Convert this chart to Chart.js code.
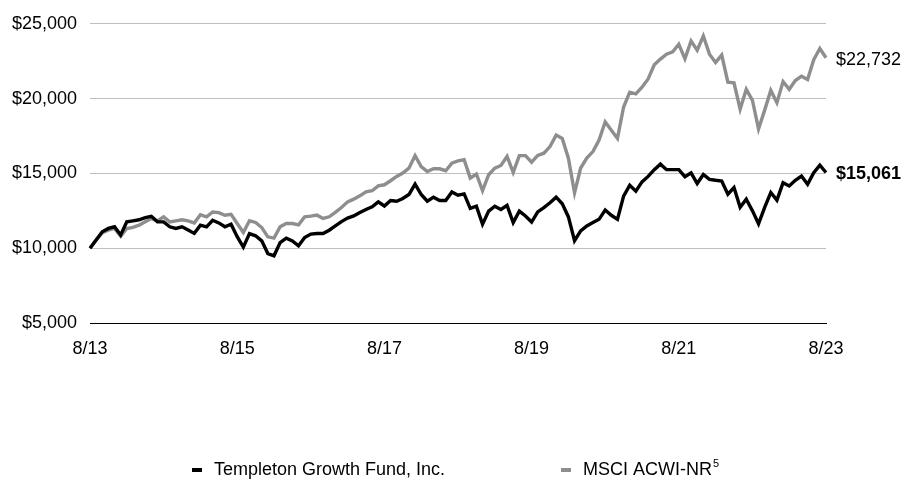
<!DOCTYPE html>
<html>
<head>
<meta charset="utf-8">
<script src="https://cdn.jsdelivr.net/npm/chart.js@4/dist/chart.umd.min.js"></script>
<style>
html,body{margin:0;padding:0;background:#fff;}
#wrap{width:903px;height:480px;position:relative;}
</style>
</head>
<body>
<div id="wrap"><canvas id="c" width="903" height="480"></canvas></div>
<script>
// ---- data ----
const FIRST_MONTH = 8;          // August
const FIRST_YEAR = 13;          // 2013
const MONTH_COUNT = 121;        // 8/13 .. 8/23 monthly
const TICK_LABELS = ['8/13', '8/15', '8/17', '8/19', '8/21', '8/23'];
const Y_TICKS = [5000, 10000, 15000, 20000, 25000];
const SERIES_NAMES = ['Templeton Growth Fund, Inc.', 'MSCI ACWI-NR⁵'];

const FUND = [
  10000, 10550, 11100, 11320, 11430, 10880, 11760, 11830, 11900, 12050,
  12130, 11760, 11760, 11430, 11320, 11430, 11210, 10990, 11540, 11430,
  11870, 11690, 11430, 11600, 10770, 10070, 10980, 10830, 10490, 9640,
  9490, 10380, 10670, 10490, 10160, 10710, 10940, 10980, 10980, 11200,
  11490, 11780, 12010, 12160, 12390, 12590, 12770, 13100, 12820, 13190,
  13140, 13320, 13590, 14290, 13590, 13140, 13410, 13190, 13190, 13760,
  13540, 13630, 12660, 12810, 11600, 12480, 12810, 12590, 12860, 11710,
  12480, 12150, 11750, 12430, 12710, 13040, 13410, 12970, 12090, 10500,
  11160, 11490, 11710, 11930, 12550, 12200, 11930, 13480, 14210, 13810,
  14430, 14800, 15250, 15620, 15250, 15250, 15255, 14780, 15040, 14320,
  14930, 14600, 14540, 14490, 13610, 14050, 12730, 13280, 12510, 11630,
  12730, 13720, 13210, 14380, 14160, 14540, 14820, 14270, 15040, 15550,
  15061
];

const INDEX = [
  10000, 10550, 11030, 11210, 11320, 10800, 11320, 11390, 11540, 11760,
  11980, 11830, 12090, 11760, 11830, 11900, 11830, 11690, 12240, 12090,
  12420, 12380, 12200, 12270, 11650, 11050, 11830, 11720, 11380, 10760,
  10670, 11430, 11650, 11650, 11560, 12100, 12140, 12210, 11990, 12100,
  12390, 12720, 13100, 13280, 13500, 13770, 13840, 14170, 14240, 14510,
  14800, 15020, 15350, 16190, 15460, 15130, 15310, 15310, 15180, 15690,
  15840, 15910, 14690, 14960, 13850, 14910, 15350, 15530, 16130, 15070,
  16190, 16190, 15750, 16200, 16350, 16790, 17560, 17340, 16020, 13700,
  15360, 16020, 16460, 17230, 18450, 17890, 17340, 19440, 20430, 20320,
  20760, 21310, 22260, 22640, 22970, 23120, 23630, 22660, 23850, 23240,
  24180, 22970, 22420, 22910, 21100, 21060, 19290, 20620, 19890, 17970,
  19230, 20550, 19730, 21140, 20620, 21210, 21500, 21280, 22600, 23350,
  22732
];

// ---- categories (month labels m/yy) ----
const CATEGORIES = [];
for (let i = 0; i < MONTH_COUNT; i++) {
  const m0 = FIRST_MONTH - 1 + i;
  CATEGORIES.push(((m0 % 12) + 1) + '/' + (FIRST_YEAR + Math.floor(m0 / 12)));
}

// ---- font selection ----
function hasFont(name) {
  const c = document.createElement('canvas').getContext('2d');
  const s = 'abcdefghijklmnopqrstuvwxyz0123456789';
  c.font = '40px monospace';
  const a = c.measureText(s).width;
  c.font = '40px "' + name + '", monospace';
  return c.measureText(s).width !== a;
}
const NARROW = hasFont('Liberation Sans Narrow');
const FAMILY = NARROW ? '"Liberation Sans Narrow", "Arial Narrow", sans-serif' : '"Liberation Sans", Arial, sans-serif';
const TICK_SIZE = NARROW ? 22 : 18;
const LEGEND_SIZE = NARROW ? 21 : 18;

const BLACK = '#000000';
const GREY = '#8e8e8e';
const GRID = '#bfbfbf';

const fmt = v => '$' + Math.round(v).toLocaleString('en-US');

// end-of-line value labels
const endLabels = {
  id: 'endLabels',
  afterDatasetsDraw(chart) {
    const ctx = chart.ctx;
    ctx.save();
    chart.data.datasets.forEach((ds, i) => {
      const meta = chart.getDatasetMeta(i);
      const pt = meta.data[meta.data.length - 1];
      const v = ds.data[ds.data.length - 1];
      ctx.font = (i === 0 ? 'bold ' : '') + TICK_SIZE + 'px ' + FAMILY;
      ctx.fillStyle = '#000';
      ctx.textAlign = 'left';
      ctx.textBaseline = 'middle';
      ctx.fillText(fmt(v), chart.chartArea.right + 10, pt.y + 2);
    });
    ctx.restore();
  }
};

// legend drawn as in the reference
const LEGEND_X = [192, 561];
const LEGEND_BASELINE = 475;
const refLegend = {
  id: 'refLegend',
  afterDraw(chart) {
    const ctx = chart.ctx;
    ctx.save();
    chart.data.datasets.forEach((ds, i) => {
      const x = LEGEND_X[i];
      const capMid = LEGEND_BASELINE - LEGEND_SIZE * 0.36;
      ctx.fillStyle = ds.borderColor;
      ctx.fillRect(x, Math.round(capMid) - 1, 10, 4);
      ctx.fillStyle = '#000';
      ctx.textBaseline = 'alphabetic';
      ctx.textAlign = 'left';
      ctx.font = LEGEND_SIZE + 'px ' + FAMILY;
      let label = ds.label;
      let sup = '';
      if (label.endsWith('⁵')) { sup = '5'; label = label.slice(0, -1); }
      const tx = x + 22;
      ctx.fillText(label, tx, LEGEND_BASELINE);
      if (sup) {
        const w = ctx.measureText(label).width;
        ctx.font = Math.round(LEGEND_SIZE * 0.62) + 'px ' + FAMILY;
        ctx.fillText(sup, tx + w + 1, LEGEND_BASELINE - LEGEND_SIZE * 0.42);
      }
    });
    ctx.restore();
  }
};

new Chart(document.getElementById('c'), {
  type: 'line',
  data: {
    labels: CATEGORIES,
    datasets: [
      { label: SERIES_NAMES[0], data: FUND, borderColor: BLACK, backgroundColor: BLACK,
        borderWidth: 3.4, pointRadius: 0, tension: 0, fill: false },
      { label: SERIES_NAMES[1], data: INDEX, borderColor: GREY, backgroundColor: GREY,
        borderWidth: 3.4, pointRadius: 0, tension: 0, fill: false }
    ]
  },
  options: {
    responsive: false,
    animation: false,
    devicePixelRatio: 1,
    layout: { padding: { top: 20, right: 77, bottom: 117, left: 0 } },
    plugins: { legend: { display: false }, tooltip: { enabled: false } },
    scales: {
      x: {
        type: 'category',
        offset: false,
        grid: { display: false, drawTicks: false },
        border: { display: true, color: '#000', width: 1 },
        ticks: {
          autoSkip: false,
          maxRotation: 0,
          minRotation: 0,
          padding: 15,
          color: '#000',
          font: { family: FAMILY, size: TICK_SIZE },
          callback: function (val, idx) {
            const lab = CATEGORIES[idx];
            return TICK_LABELS.includes(lab) ? lab : null;
          }
        },
        afterFit: s => { s.height = 40; }
      },
      y: {
        min: Y_TICKS[0],
        max: Y_TICKS[Y_TICKS.length - 1],
        afterBuildTicks: s => { s.ticks = Y_TICKS.map(v => ({ value: v })); },
        grid: {
          drawTicks: false,
          lineWidth: 1,
          color: c => (c.tick && c.tick.value === Y_TICKS[0]) ? '#000' : GRID
        },
        border: { display: false },
        ticks: {
          padding: 13,
          color: '#000',
          font: { family: FAMILY, size: TICK_SIZE },
          callback: v => fmt(v)
        },
        afterFit: s => { s.width = 90; }
      }
    }
  },
  plugins: [endLabels, refLegend]
});
</script>
</body>
</html>
